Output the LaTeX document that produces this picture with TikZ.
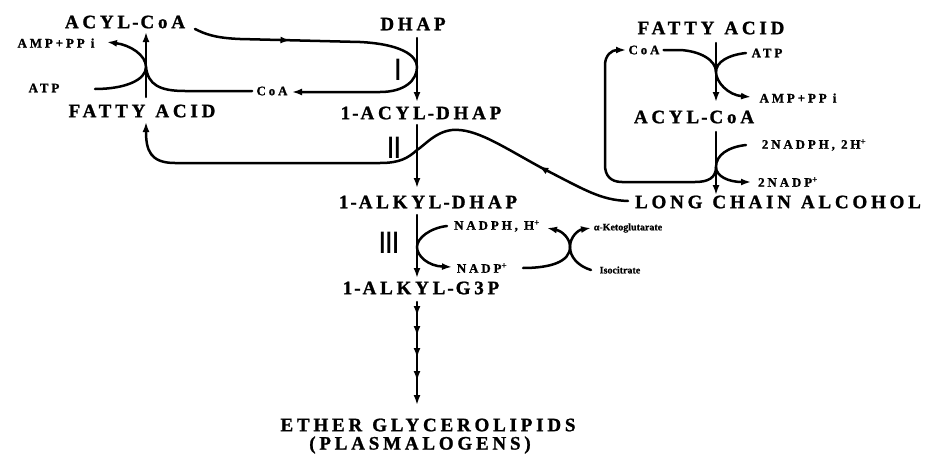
\documentclass[tikz,border=0pt]{standalone}
\usepackage{fontspec}
\setmainfont{Liberation Serif}
\newfontfamily\lblfont[LetterSpace=20, BoldFeatures={FakeBold=1.2}]{Liberation Serif}
\newfontfamily\smlfont[LetterSpace=22, BoldFeatures={FakeBold=1}]{Liberation Serif}
\newfontfamily\tinyfont[BoldFeatures={FakeBold=0.8}]{Liberation Serif}
\newfontfamily\barfont{Liberation Sans}
\newcommand{\hy}{\kern2pt-\kern2pt}
\newcommand{\wsp}{\hspace{10pt}}
\newcommand{\bk}{\kern-2pt}
\usetikzlibrary{arrows.meta,decorations.markings}
\begin{document}
\begin{tikzpicture}[x=1pt,y=-1pt,
  big/.style={font=\lblfont\bfseries\fontsize{19}{19}\selectfont, inner sep=0pt},
  small/.style={font=\smlfont\bfseries\fontsize{13}{13}\selectfont, inner sep=0pt},
  tiny/.style={font=\tinyfont\bfseries\fontsize{10}{10}\selectfont, inner sep=0pt},
  roman/.style={font=\barfont\fontsize{31}{31}\selectfont, inner sep=0pt},
  ln/.style={line width=2.5pt, line cap=round},
  tip/.style={-{Latex[length=10pt,width=7pt]}},
  midarrow/.style={postaction={decorate},decoration={markings,mark=at position #1 with {\arrow{Latex[length=10pt,width=7pt]}}}},
]
\useasboundingbox (0,0) rectangle (927,455);
% ---- nodes ----
\node[big] (acylL) at (125,22) {ACYL\hy CoA};
\node[big] (fattyL) at (142,111) {FATTY\wsp ACID};
\node[small] (ampL) at (56,43) {AMP+PP i};
\node[small] (atpL) at (44,88) {ATP};
\node[small] (coaL) at (272,91) {CoA};
\node[big] (dhap) at (413,24) {DHAP};
\node[big] (acyldhap) at (421,113) {1\hy ACYL\hy DHAP};
\node[big] (alkyldhap) at (428,202) {1\hy ALKYL\hy DHAP};
\node[big] (alkylg3p) at (421,288) {1\hy ALKYL\hy G3P};
\node[big] (ether) at (428,425) {ETHER\wsp GLYCEROLIPIDS};
\node[big] (plasm) at (420,445) {(PLASMALOGENS)};
\node[big] (fattyR) at (711,28) {FATTY\wsp ACID};
\node[small] (atpR) at (767,53) {ATP};
\node[small] (ampR) at (798,98) {AMP+PP i};
\node[big] (acylR) at (694,117) {ACYL\hy CoA};
\node[small] (nadphR) at (814,145) {2NADPH, 2H\textsuperscript{+}};
\node[small] (nadpR) at (788,182) {2NADP\textsuperscript{+}};
\node[small] (coaR) at (644,50) {CoA};
\node[big] (lca) at (778,202) {LONG\wsp CHAIN\wsp ALCOHOL};
\node[small] (nadph) at (497,226) {NADPH, H\textsuperscript{+}};
\node[small] (nadp) at (482,268) {NADP\textsuperscript{+}};
\node[tiny] (akg) at (628,228) {α-Ketoglutarate};
\node[tiny] (iso) at (620,270) {Isocitrate};
\node[roman] (rI) at (398,70) {I};
\node[roman] (rII) at (394,148) {I\bk I};
\node[roman] (rIII) at (389,243) {I\bk I\bk I};
% ---- junction coordinates ----
\coordinate (jL) at (146,67);
\coordinate (jI) at (417,67);
\coordinate (jII) at (417,150);
\coordinate (jIII) at (417,247);
\coordinate (jX) at (570,247);
\coordinate (jR1) at (716,72);
\coordinate (jR2) at (716,167);
% ---- left activation ----
\draw[ln,tip] (146,97) -- (146,32);
\draw[ln,tip] (95,89) .. controls (125,89) and (146,80) .. (jL) .. controls (146,55) and (130,45) .. (107,42);
\draw[ln] (jL) .. controls (148,85) and (160,91) .. (185,91) -- (252,91);
% ---- step I ----
\draw[ln,tip] (417,38) -- (417,102);
\draw[ln,tip,midarrow=97pt] (195,29) .. controls (205,34) and (215,38) .. (240,39) -- (360,42) .. controls (400,44) and (417,55) .. (jI) .. controls (417,80) and (405,92) .. (380,92) -- (292,92);
% ---- step II ----
\draw[ln,tip] (417,125) -- (417,188);
\draw[ln,tip,midarrow=97pt] (628,201) .. controls (600,200) and (585,190) .. (540,167) .. controls (500,145) and (475,128) .. (452,130) .. controls (435,132) and (425,145) .. (jII) .. controls (408,158) and (400,163) .. (380,163) -- (175,163) .. controls (150,163) and (146,150) .. (146,122);
% ---- step III ----
\draw[ln,tip] (417,215) -- (417,278);
\draw[ln,tip] (447,226) .. controls (430,228) and (417,238) .. (jIII) .. controls (417,256) and (428,266) .. (452,267);
\draw[ln,tip] (523,268) .. controls (550,268) and (570,262) .. (jX) .. controls (570,238) and (562,231) .. (547,228);
\draw[ln,tip] (591,270) .. controls (578,266) and (570,257) .. (jX) .. controls (570,237) and (578,230) .. (591,228);
% ---- to ether lipids ----
\draw[ln,tip,postaction={decorate},decoration={markings,
  mark=at position 14pt with {\arrow{Latex[length=10pt,width=7pt]}},
  mark=at position 34pt with {\arrow{Latex[length=10pt,width=7pt]}},
  mark=at position 56pt with {\arrow{Latex[length=10pt,width=7pt]}},
  mark=at position 79pt with {\arrow{Latex[length=10pt,width=7pt]}}}] (417,302) -- (417,405);
% ---- right side ----
\draw[ln,tip] (716,43) -- (716,102);
\draw[ln,tip] (746,53) .. controls (728,55) and (716,62) .. (jR1) .. controls (716,82) and (728,95) .. (751,97);
\draw[ln] (coaR.east) ++(4,0) -- (680,50) .. controls (700,51) and (716,60) .. (jR1);
\draw[ln,tip] (716,132) -- (716,195);
\draw[ln,tip] (746,145) .. controls (728,147) and (716,155) .. (jR2) .. controls (716,176) and (728,182) .. (751,182);
\draw[ln,tip] (jR2) .. controls (716,178) and (708,182) .. (695,182) -- (622,182) .. controls (610,182) and (605,175) .. (605,165) -- (605,65) .. controls (605,55) and (612,50) .. (626,50);
\end{tikzpicture}
\end{document}
